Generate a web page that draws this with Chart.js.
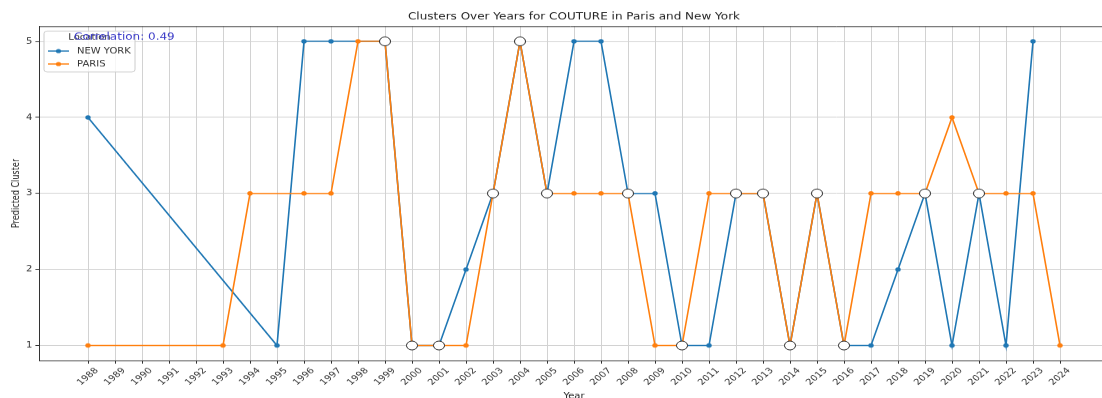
<!DOCTYPE html>
<html>
<head>
<meta charset="utf-8">
<script src="https://cdn.jsdelivr.net/npm/chart.js@4/dist/chart.umd.min.js"></script>
<style>
  html, body { margin: 0; padding: 0; background: #fff; overflow: hidden; width: 1102px; height: 398px; }
  #frame { position: relative; width: 1102px; height: 398px; overflow: hidden; }
  #wrap { position: absolute; left: 0; top: 0; width: 1102px; height: 499px; transform: scaleY(0.81); transform-origin: 0 0; }
  canvas { display: block; }
</style>
</head>
<body>
<div id="frame"><div id="wrap"><canvas id="chart" width="1102" height="499"></canvas></div></div>
<script>
// Years shown on the x axis (one tick per year)
const years = [1988, 1989, 1990, 1991, 1992, 1993, 1994, 1995, 1996, 1997,
               1998, 1999, 2000, 2001, 2002, 2003, 2004, 2005, 2006, 2007,
               2008, 2009, 2010, 2011, 2012, 2013, 2014, 2015, 2016, 2017,
               2018, 2019, 2020, 2021, 2022, 2023, 2024];

// Predicted cluster per year (null = no collection that year)
const newYork = [4, null, null, null, null, null, null, 1, 5, 5,
                 null, 5, 1, 1, 2, 3, 5, 3, 5, 5,
                 3, 3, 1, 1, 3, 3, 1, 3, 1, 1,
                 2, 3, 1, 3, 1, 5, null];
const paris = [1, null, null, null, null, 1, 3, null, 3, 3,
               5, 5, 1, 1, 1, 3, 5, 3, 3, 3,
               3, 1, 1, 3, 3, 3, 1, 3, 1, 3,
               3, 3, 4, 3, 3, 3, 1];

const clusterTicks = [1, 2, 3, 4, 5];
const correlation = 0.49;

const seriesNames = ['NEW YORK', 'PARIS'];
const seriesColors = ['#1f77b4', '#ff7f0e'];

const toPoints = vals => years
  .map((yr, i) => ({ x: yr, y: vals[i] }))
  .filter(p => p.y !== null);

// Years where both cities land in the same cluster
const matches = years
  .map((yr, i) => ({ x: yr, y: newYork[i] }))
  .filter((p, i) => newYork[i] !== null && newYork[i] === paris[i]);

const FONT = 'DejaVu Sans, sans-serif';

const overlay = {
  id: 'overlay',
  afterDraw(chart) {
    const { ctx, chartArea: a, scales } = chart;
    ctx.save();

    // top spine
    ctx.strokeStyle = '#333';
    ctx.lineWidth = 1;
    ctx.beginPath();
    ctx.moveTo(a.left, a.top + 0.5);
    ctx.lineTo(a.right, a.top + 0.5);
    ctx.stroke();

    // title, centred over the plot area (axes extend past the right edge)
    const axesCentre = scales.x.getPixelForValue((1986.2 + 2025.8) / 2);
    ctx.fillStyle = '#222';
    ctx.font = '12px ' + FONT;
    ctx.textAlign = 'center';
    ctx.textBaseline = 'middle';
    ctx.fillText('Clusters Over Years for COUTURE in Paris and New York', axesCentre, 21);

    // x axis label
    ctx.font = '10px ' + FONT;
    ctx.fillText('Year', axesCentre, 489);

    // rotated year labels, each centred under its tick
    ctx.fillStyle = '#333';
    const top = a.bottom + 7.2;
    years.forEach(yr => {
      const px = scales.x.getPixelForValue(yr);
      const label = String(yr);
      const w = ctx.measureText(label).width;
      const box = (w + 10) * Math.SQRT1_2;
      ctx.save();
      ctx.translate(px, top + box / 2);
      ctx.rotate(-Math.PI / 4);
      ctx.textAlign = 'center';
      ctx.textBaseline = 'middle';
      ctx.fillText(label, 0, 0);
      ctx.restore();
    });

    // legend
    const lx = 44, ly = 38.3, lw = 91, lh = 50.6, r = 3;
    ctx.beginPath();
    ctx.moveTo(lx + r, ly);
    ctx.arcTo(lx + lw, ly, lx + lw, ly + lh, r);
    ctx.arcTo(lx + lw, ly + lh, lx, ly + lh, r);
    ctx.arcTo(lx, ly + lh, lx, ly, r);
    ctx.arcTo(lx, ly, lx + lw, ly, r);
    ctx.closePath();
    ctx.fillStyle = 'rgba(255,255,255,0.8)';
    ctx.fill();
    ctx.strokeStyle = '#cccccc';
    ctx.stroke();

    ctx.fillStyle = '#333';
    ctx.font = '10px ' + FONT;
    ctx.textAlign = 'center';
    ctx.textBaseline = 'middle';
    ctx.fillText('Location', lx + lw / 2, 46.3);

    const rows = [63, 79];
    seriesNames.forEach((name, i) => {
      const y = rows[i];
      ctx.strokeStyle = seriesColors[i];
      ctx.lineWidth = 1.5;
      ctx.beginPath();
      ctx.moveTo(48, y);
      ctx.lineTo(69, y);
      ctx.stroke();
      ctx.fillStyle = seriesColors[i];
      ctx.beginPath();
      ctx.arc(58.5, y, 2.6, 0, Math.PI * 2);
      ctx.fill();
      ctx.fillStyle = '#333';
      ctx.textAlign = 'left';
      ctx.fillText(name, 77, y);
    });

    // correlation note
    ctx.fillStyle = '#3c3cc8';
    ctx.font = '12px ' + FONT;
    ctx.textAlign = 'left';
    ctx.textBaseline = 'middle';
    ctx.fillText('Correlation: ' + correlation.toFixed(2), 74, 45.5);

    ctx.restore();
  }
};

new Chart(document.getElementById('chart'), {
  type: 'line',
  data: {
    datasets: [
      {
        label: seriesNames[0],
        data: toPoints(newYork),
        borderColor: seriesColors[0],
        backgroundColor: seriesColors[0],
        borderWidth: 1.6,
        pointRadius: 2.7,
        pointBorderWidth: 0,
        tension: 0,
        order: 2
      },
      {
        label: seriesNames[1],
        data: toPoints(paris),
        borderColor: seriesColors[1],
        backgroundColor: seriesColors[1],
        borderWidth: 1.6,
        pointRadius: 2.7,
        pointBorderWidth: 0,
        tension: 0,
        order: 1
      },
      {
        label: 'Same cluster',
        data: matches,
        showLine: false,
        pointRadius: 5.5,
        pointBackgroundColor: '#ffffff',
        pointBorderColor: '#222222',
        pointBorderWidth: 1,
        order: 0
      }
    ]
  },
  options: {
    responsive: false,
    animation: false,
    devicePixelRatio: 1,
    events: [],
    layout: { autoPadding: false, padding: { top: 32.3, left: 0, right: 0, bottom: 0 } },
    plugins: {
      legend: { display: false },
      title: { display: false },
      tooltip: { enabled: false }
    },
    scales: {
      x: {
        type: 'linear',
        min: 1986.185,
        max: 2025.555,
        afterBuildTicks: s => { s.ticks = years.map(v => ({ value: v })); },
        afterFit: s => { s.height = 499 - 445.3; },
        ticks: { display: false },
        grid: { color: '#d2d2d2', lineWidth: 1, tickColor: '#333', tickLength: 3.6 },
        border: { color: '#333', width: 1 }
      },
      y: {
        type: 'linear',
        min: 0.8,
        max: 5.2,
        afterBuildTicks: s => { s.ticks = clusterTicks.map(v => ({ value: v })); },
        afterFit: s => { s.width = 39; },
        ticks: {
          color: '#333',
          padding: 3,
          font: { family: FONT, size: 10 },
          callback: v => String(v)
        },
        grid: { color: '#d2d2d2', lineWidth: 1, tickColor: '#333', tickLength: 3.6 },
        border: { color: '#333', width: 1 },
        title: {
          display: true,
          text: 'Predicted Cluster',
          color: '#222',
          font: { family: FONT, size: 10 },
          padding: { top: 10, bottom: 0 }
        }
      }
    }
  },
  plugins: [overlay]
});
</script>
</body>
</html>
